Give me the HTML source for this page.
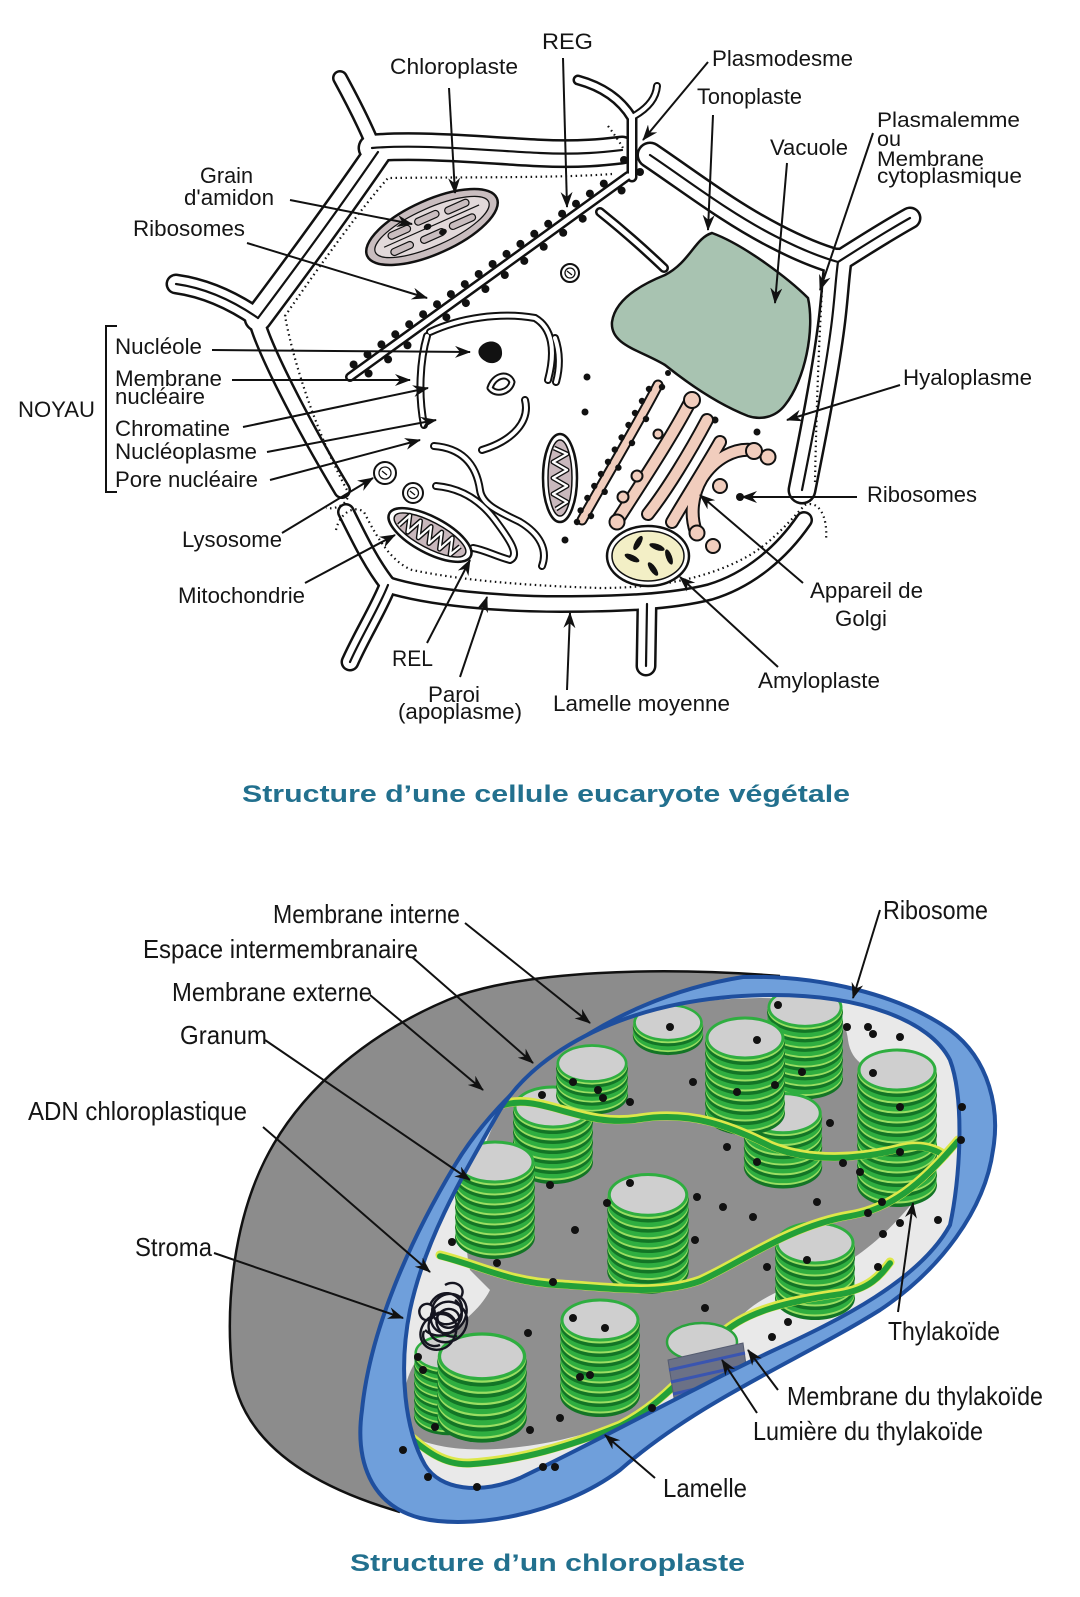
<!DOCTYPE html>
<html><head><meta charset="utf-8">
<style>
html,body{margin:0;padding:0;background:#fff;}
svg{display:block;}
text{font-family:"Liberation Sans",Arial,sans-serif;fill:#151515;}
.t{font-size:22px;}
.s{font-size:21px;}
.c{font-size:26px;}
.ti{font-size:24px;font-weight:bold;fill:#22708e;}
</style></head><body>
<svg width="1080" height="1597" viewBox="0 0 1080 1597" xmlns="http://www.w3.org/2000/svg" xmlns:xlink="http://www.w3.org/1999/xlink">
<defs>
<marker id="a" viewBox="0 0 16 12" markerWidth="16" markerHeight="12" refX="15" refY="6" orient="auto" markerUnits="userSpaceOnUse"><path d="M0,0 L16,6 L0,12 L5,6 Z" fill="#111"/></marker>
<path id="w1" d="M 372,148 C 420,144 480,150 540,153 C 580,155 605,152 622,150"/>
<path id="w2" d="M 378,152 C 345,200 300,262 258,318"/>
<path id="w3" d="M 256,318 C 262,345 300,420 342,490"/>
<path id="w4" d="M 346,512 C 360,540 372,565 388,585"/>
<path id="w5" d="M 388,585 C 430,598 500,604 560,604 C 620,604 670,602 710,592 C 750,580 782,552 804,520"/>
<path id="w6" d="M 802,490 C 812,440 826,370 832,320 C 835,295 836,275 838,262"/>
<path id="w7" d="M 650,155 C 690,182 730,213 775,236 C 800,249 820,257 838,262"/>
<path id="s1" d="M 375,150 C 365,125 352,100 340,78"/>
<path id="s2" d="M 258,318 C 232,300 205,288 176,284"/>
<path id="s3" d="M 388,585 C 378,610 362,635 350,662"/>
<path id="s4" d="M 647,604 L 646,666"/>
<path id="s5" d="M 838,262 C 860,248 885,232 910,218"/>
<g id="disc">
 <ellipse rx="40" ry="22" fill="#137526"/>
 <ellipse cy="-3" rx="39.5" ry="21.5" fill="#9ade62"/>
 <ellipse cy="-5" rx="39.5" ry="21.5" fill="#2fae40"/>
</g>
<g id="cap"><ellipse cy="-5" rx="36.5" ry="18.5" fill="#cfcfcf"/></g>
<g id="s2s"><use xlink:href="#disc" y="10"/><use xlink:href="#disc"/><use xlink:href="#cap"/></g>
<g id="s4s"><use xlink:href="#disc" y="30"/><use xlink:href="#disc" y="20"/><use xlink:href="#disc" y="10"/><use xlink:href="#disc"/><use xlink:href="#cap"/></g>
<g id="n6"><use xlink:href="#disc" y="50"/><use xlink:href="#disc" y="40"/><use xlink:href="#disc" y="30"/><use xlink:href="#disc" y="20"/><use xlink:href="#disc" y="10"/><use xlink:href="#disc"/></g>
<g id="s6s"><use xlink:href="#n6"/><use xlink:href="#cap"/></g>
<g id="s8s"><use xlink:href="#disc" y="70"/><use xlink:href="#disc" y="60"/><use xlink:href="#n6"/><use xlink:href="#cap"/></g>
<g id="s12s"><use xlink:href="#disc" y="110"/><use xlink:href="#disc" y="100"/><use xlink:href="#disc" y="90"/><use xlink:href="#disc" y="80"/><use xlink:href="#disc" y="70"/><use xlink:href="#disc" y="60"/><use xlink:href="#n6"/><use xlink:href="#cap"/></g>
<path id="inner" d="M 773,995 C 860,995 930,1020 950,1060 C 965,1100 960,1180 950,1225 C 920,1280 840,1320 770,1352 C 690,1390 600,1440 520,1478 C 480,1495 440,1490 425,1465 C 405,1430 398,1370 410,1310 C 425,1240 460,1180 500,1110 C 540,1045 640,995 773,995 Z"/>
<clipPath id="inclip"><use xlink:href="#inner"/></clipPath>
</defs>

<!-- ============ CELL ============ -->
<path d="M 712,233 C 745,245 790,280 808,298 C 815,330 805,380 785,405 C 775,418 760,420 748,416 C 720,405 690,385 665,365 C 640,350 610,345 612,322 C 615,300 640,285 665,275 C 690,262 695,238 712,233 Z" fill="#a8c3b1" stroke="#111" stroke-width="2.5"/>

<g fill="none" stroke-linecap="round" stroke-linejoin="round">
 <g stroke="#111">
  <use xlink:href="#w1" stroke-width="29"/><use xlink:href="#w2" stroke-width="29"/>
  <use xlink:href="#w6" stroke-width="29"/><use xlink:href="#w7" stroke-width="27"/>
  <use xlink:href="#w3" stroke-width="18"/><use xlink:href="#w4" stroke-width="18"/><use xlink:href="#w5" stroke-width="18"/>
  <use xlink:href="#s1" stroke-width="16"/><use xlink:href="#s2" stroke-width="21"/><use xlink:href="#s3" stroke-width="19"/>
  <use xlink:href="#s4" stroke-width="21"/><use xlink:href="#s5" stroke-width="23"/>
 </g>
 <g stroke="#fff">
  <use xlink:href="#w1" stroke-width="24"/><use xlink:href="#w2" stroke-width="24"/>
  <use xlink:href="#w6" stroke-width="24"/><use xlink:href="#w7" stroke-width="22"/>
  <use xlink:href="#w3" stroke-width="13"/><use xlink:href="#w4" stroke-width="13"/><use xlink:href="#w5" stroke-width="13"/>
  <use xlink:href="#s1" stroke-width="11"/><use xlink:href="#s2" stroke-width="16"/><use xlink:href="#s3" stroke-width="14"/>
  <use xlink:href="#s4" stroke-width="16"/><use xlink:href="#s5" stroke-width="18"/>
 </g>
 <g stroke="#111" stroke-width="2.2">
  <use xlink:href="#w1"/><use xlink:href="#w2"/><use xlink:href="#w6"/><use xlink:href="#w7"/>
  <use xlink:href="#s2"/><use xlink:href="#s3"/><use xlink:href="#s4"/><use xlink:href="#s5"/>
 </g>
 <g stroke="#111" stroke-width="2.2" stroke-dasharray="1.5 3.5" stroke-linecap="butt">
  <path d="M 612,174 C 560,178 470,177 388,178 C 360,210 325,258 285,316 C 295,370 320,440 348,492 C 350,502 338,510 326,508"/>
  <path d="M 336,530 C 340,512 355,505 364,512 C 378,540 392,562 412,570 C 470,582 540,586 600,588 C 660,588 710,578 750,555 C 775,540 795,515 805,505 C 818,500 828,515 826,540"/>
  <path d="M 815,482 C 816,430 818,360 822,290"/>
  <path d="M 608,126 C 614,134 619,141 623,148"/>
 </g>
 <g stroke="#111">
  <path d="M 350,377 L 628,176" stroke-width="10"/>
  <path d="M 632,177 L 632,118 C 620,98 600,86 578,80" stroke-width="11"/>
  <path d="M 634,116 C 648,108 656,98 657,86" stroke-width="8"/>
  <path d="M 600,212 C 620,228 645,250 664,268" stroke-width="10"/>
  <path d="M 430,332 C 460,318 500,312 535,318 C 552,328 556,350 548,380" stroke-width="8"/>
  <path d="M 427,336 C 420,360 418,395 424,425" stroke-width="8"/>
  <path d="M 434,446 C 460,448 476,462 480,490 C 482,505 500,512 520,522 C 540,534 548,550 542,566" stroke-width="8"/>
  <path d="M 436,486 C 460,488 480,500 495,520 C 510,540 520,555 510,560 C 495,556 485,550 473,548" stroke-width="8"/>
  <path d="M 555,338 C 560,352 560,368 556,382" stroke-width="8"/>
  <path d="M 490,388 C 494,375 508,372 512,382 C 510,392 496,396 490,388" stroke-width="7"/>
  <path d="M 525,400 C 530,420 515,440 482,450" stroke-width="8"/>
 </g>
 <g stroke="#fff">
  <path d="M 350,377 L 628,176" stroke-width="5"/>
  <path d="M 632,177 L 632,118 C 620,98 600,86 578,80" stroke-width="6"/>
  <path d="M 634,116 C 648,108 656,98 657,86" stroke-width="4"/>
  <path d="M 600,212 C 620,228 645,250 664,268" stroke-width="5"/>
  <path d="M 430,332 C 460,318 500,312 535,318 C 552,328 556,350 548,380" stroke-width="4"/>
  <path d="M 427,336 C 420,360 418,395 424,425" stroke-width="4"/>
  <path d="M 434,446 C 460,448 476,462 480,490 C 482,505 500,512 520,522 C 540,534 548,550 542,566" stroke-width="4"/>
  <path d="M 436,486 C 460,488 480,500 495,520 C 510,540 520,555 510,560 C 495,556 485,550 473,548" stroke-width="4"/>
  <path d="M 555,338 C 560,352 560,368 556,382" stroke-width="4"/>
  <path d="M 490,388 C 494,375 508,372 512,382 C 510,392 496,396 490,388" stroke-width="3"/>
  <path d="M 525,400 C 530,420 515,440 482,450" stroke-width="4"/>
 </g>
</g>

<g fill="#111">
 <circle cx="353.6" cy="364.5" r="4"/><circle cx="367.5" cy="354.4" r="4"/><circle cx="381.4" cy="344.4" r="4"/><circle cx="395.3" cy="334.3" r="4"/><circle cx="409.2" cy="324.3" r="4"/><circle cx="423.1" cy="314.2" r="4"/><circle cx="437" cy="304.2" r="4"/><circle cx="450.9" cy="294.1" r="4"/><circle cx="464.8" cy="284.1" r="4"/><circle cx="478.7" cy="274" r="4"/><circle cx="492.6" cy="264" r="4"/><circle cx="506.5" cy="253.9" r="4"/><circle cx="520.4" cy="243.9" r="4"/><circle cx="534.3" cy="233.8" r="4"/><circle cx="548.2" cy="223.8" r="4"/><circle cx="562.1" cy="213.7" r="4"/><circle cx="576" cy="203.7" r="4"/><circle cx="589.9" cy="193.6" r="4"/><circle cx="603.8" cy="183.6" r="4"/>
 <circle cx="368.6" cy="373.5" r="4"/><circle cx="388.1" cy="359.4" r="4"/><circle cx="407.5" cy="345.3" r="4"/><circle cx="446.4" cy="317.2" r="4"/><circle cx="465.9" cy="303.1" r="4"/><circle cx="485.4" cy="289" r="4"/><circle cx="504.8" cy="275" r="4"/><circle cx="524.3" cy="260.9" r="4"/><circle cx="543.7" cy="246.8" r="4"/><circle cx="563.2" cy="232.8" r="4"/><circle cx="582.7" cy="218.7" r="4"/><circle cx="621.6" cy="190.5" r="4"/><circle cx="624" cy="160" r="4"/><circle cx="640" cy="172" r="4"/>
 <circle cx="587" cy="377" r="3.5"/><circle cx="585" cy="412" r="3.5"/><circle cx="715" cy="420" r="3.5"/><circle cx="757" cy="432" r="3.5"/><circle cx="565" cy="540" r="3.5"/><circle cx="740" cy="497" r="4"/><circle cx="668" cy="373" r="3"/>
 <path d="M 482,345 C 490,338 502,342 502,352 C 503,362 492,366 485,361 C 478,357 476,350 482,345 Z"/>
</g>

<g transform="translate(432,227) rotate(-24)">
 <ellipse rx="71" ry="27" fill="#c9bdbf" stroke="#111" stroke-width="2.5"/>
 <ellipse rx="62" ry="19" fill="#e2d9da" stroke="#111" stroke-width="1.2"/>
 <g fill="#c9bdbf" stroke="#111" stroke-width="1.2">
  <rect x="-44" y="-12" width="24" height="7" rx="3.5"/><rect x="-14" y="-14" width="26" height="7" rx="3.5"/><rect x="18" y="-12" width="26" height="7" rx="3.5"/>
  <rect x="-48" y="4" width="24" height="7" rx="3.5"/><rect x="-16" y="5" width="26" height="7" rx="3.5"/><rect x="16" y="4" width="28" height="7" rx="3.5"/>
 </g>
 <path d="M -52,-1 L 52,-1" stroke="#111" stroke-width="1.2"/>
 <ellipse cx="-4" cy="-2" rx="4" ry="3" fill="#111"/><ellipse cx="8" cy="9" rx="4" ry="3" fill="#111"/>
</g>

<g transform="translate(430,535) rotate(28)">
 <ellipse rx="46" ry="18" fill="#fff" stroke="#111" stroke-width="2.5"/>
 <ellipse rx="40" ry="13" fill="#c9b8bd" stroke="#111" stroke-width="1.5"/>
 <path d="M -32,6 L -27,-8 L -21,8 L -15,-8 L -9,8 L -3,-8 L 3,8 L 9,-8 L 15,8 L 21,-8 L 27,8 L 32,-4" fill="none" stroke="#111" stroke-width="5" stroke-linejoin="round"/>
 <path d="M -32,6 L -27,-8 L -21,8 L -15,-8 L -9,8 L -3,-8 L 3,8 L 9,-8 L 15,8 L 21,-8 L 27,8 L 32,-4" fill="none" stroke="#fff" stroke-width="2.2" stroke-linejoin="round"/>
</g>
<g transform="translate(560,478)">
 <ellipse rx="17" ry="44" fill="#fff" stroke="#111" stroke-width="2.5"/>
 <ellipse rx="12" ry="38" fill="#c9b8bd" stroke="#111" stroke-width="1.5"/>
 <path d="M -6,-30 L 7,-24 L -7,-16 L 7,-8 L -7,0 L 7,8 L -7,16 L 7,24 L -4,31" fill="none" stroke="#111" stroke-width="5" stroke-linejoin="round"/>
 <path d="M -6,-30 L 7,-24 L -7,-16 L 7,-8 L -7,0 L 7,8 L -7,16 L 7,24 L -4,31" fill="none" stroke="#fff" stroke-width="2.2" stroke-linejoin="round"/>
</g>

<g fill="#fff" stroke="#111" stroke-width="2">
 <circle cx="385" cy="473" r="11"/><circle cx="413" cy="493" r="10"/><circle cx="570" cy="273" r="9"/>
</g>
<g fill="none" stroke="#111" stroke-width="1.3">
 <circle cx="385" cy="473" r="6"/><circle cx="413" cy="493" r="5.5"/><circle cx="570" cy="273" r="5"/>
 <path d="M 382,471 l 5,4 M 410,491 l 5,4 M 567,271 l 5,4"/>
</g>

<!-- golgi -->
<g fill="none" stroke-linecap="round" stroke-linejoin="round">
 <g stroke="#111" stroke-width="14">
  <path d="M 658,385 C 640,420 610,470 582,520" stroke-width="11"/>
  <path d="M 690,402 C 670,440 640,485 617,521"/>
  <path d="M 707,420 C 690,452 667,490 648,514"/>
  <path d="M 720,442 C 704,470 686,498 672,522"/>
  <path d="M 752,450 C 735,448 715,458 702,478 C 692,495 690,515 696,532"/>
 </g>
 <g stroke="#f1cdbd" stroke-width="10">
  <path d="M 658,385 C 640,420 610,470 582,520" stroke-width="7"/>
  <path d="M 690,402 C 670,440 640,485 617,521"/>
  <path d="M 707,420 C 690,452 667,490 648,514"/>
  <path d="M 720,442 C 704,470 686,498 672,522"/>
  <path d="M 752,450 C 735,448 715,458 702,478 C 692,495 690,515 696,532"/>
 </g>
</g>
<g fill="#f1cdbd" stroke="#111" stroke-width="2">
 <circle cx="768" cy="457" r="7.5"/><circle cx="720" cy="486" r="7"/><circle cx="713" cy="546" r="7"/><circle cx="637" cy="476" r="5.5"/><circle cx="623" cy="497" r="5.5"/><circle cx="658" cy="434" r="4.5"/>
 <circle cx="692" cy="400" r="8"/><circle cx="754" cy="451" r="8"/><circle cx="697" cy="533" r="7.5"/><circle cx="617" cy="522" r="7.5"/>
</g>
<g fill="#111">
 <circle cx="649" cy="389" r="3.2"/><circle cx="642" cy="401" r="3.2"/><circle cx="635" cy="413" r="3.2"/><circle cx="628.5" cy="425" r="3.2"/><circle cx="621.6" cy="437.5" r="3.2"/><circle cx="614.8" cy="449.6" r="3.2"/><circle cx="608" cy="461.8" r="3.2"/><circle cx="601" cy="474" r="3.2"/><circle cx="594.3" cy="486" r="3.2"/><circle cx="587.4" cy="498" r="3.2"/><circle cx="580.6" cy="510.4" r="3.2"/><circle cx="577" cy="522" r="3.2"/>
 <circle cx="662" cy="387" r="3.2"/><circle cx="646" cy="419" r="3.2"/><circle cx="632" cy="443" r="3.2"/><circle cx="618.4" cy="467.6" r="3.2"/><circle cx="604.7" cy="491.8" r="3.2"/><circle cx="591" cy="516" r="3.2"/>
</g>

<ellipse cx="648" cy="556" rx="41" ry="30" fill="#fff" stroke="#111" stroke-width="2.5"/>
<ellipse cx="648" cy="556" rx="36" ry="25" fill="#f3efc6" stroke="#111" stroke-width="1.5"/>
<g fill="#111">
 <ellipse cx="638" cy="543" rx="8" ry="3" transform="rotate(-60 638 543)"/>
 <ellipse cx="657" cy="547" rx="8" ry="3" transform="rotate(20 657 547)"/>
 <ellipse cx="669" cy="557" rx="8" ry="3" transform="rotate(70 669 557)"/>
 <ellipse cx="632" cy="558" rx="8" ry="3" transform="rotate(25 632 558)"/>
 <ellipse cx="653" cy="569" rx="8" ry="3" transform="rotate(55 653 569)"/>
</g>

<path d="M 117,326 L 106,326 L 106,492 L 117,492" fill="none" stroke="#111" stroke-width="2"/>

<g stroke="#111" stroke-width="2" fill="none" marker-end="url(#a)">
 <line x1="449" y1="88" x2="455" y2="193"/>
 <line x1="563" y1="58" x2="567" y2="207"/>
 <line x1="708" y1="62" x2="643" y2="140"/>
 <line x1="713" y1="115" x2="708" y2="230"/>
 <line x1="787" y1="163" x2="775" y2="303"/>
 <line x1="873" y1="133" x2="820" y2="290"/>
 <line x1="290" y1="200" x2="412" y2="224"/>
 <line x1="247" y1="243" x2="427" y2="298"/>
 <line x1="212" y1="350" x2="470" y2="352"/>
 <line x1="232" y1="380" x2="410" y2="380"/>
 <line x1="243" y1="427" x2="428" y2="388"/>
 <line x1="267" y1="452" x2="436" y2="420"/>
 <line x1="270" y1="480" x2="420" y2="440"/>
 <line x1="282" y1="533" x2="373" y2="478"/>
 <line x1="305" y1="583" x2="395" y2="535"/>
 <line x1="427" y1="643" x2="470" y2="560"/>
 <line x1="460" y1="677" x2="487" y2="597"/>
 <line x1="567" y1="690" x2="570" y2="613"/>
 <line x1="778" y1="667" x2="680" y2="577"/>
 <line x1="803" y1="583" x2="700" y2="495"/>
 <line x1="857" y1="497" x2="742" y2="497"/>
 <line x1="900" y1="385" x2="787" y2="420"/>
</g>

<g class="t">
 <text x="542" y="49" textLength="51" lengthAdjust="spacingAndGlyphs">REG</text>
 <text x="390" y="74" textLength="128" lengthAdjust="spacingAndGlyphs">Chloroplaste</text>
 <text x="712" y="66" textLength="141" lengthAdjust="spacingAndGlyphs">Plasmodesme</text>
 <text x="697" y="104" textLength="105" lengthAdjust="spacingAndGlyphs">Tonoplaste</text>
 <text x="770" y="155" textLength="78" lengthAdjust="spacingAndGlyphs">Vacuole</text>
 <text x="200" y="183" textLength="53" lengthAdjust="spacingAndGlyphs">Grain</text>
 <text x="184" y="205" textLength="90" lengthAdjust="spacingAndGlyphs">d'amidon</text>
 <text x="133" y="236" textLength="112" lengthAdjust="spacingAndGlyphs">Ribosomes</text>
 <text x="115" y="354" textLength="87" lengthAdjust="spacingAndGlyphs">Nucléole</text>
 <text x="115" y="386" textLength="107" lengthAdjust="spacingAndGlyphs">Membrane</text>
 <text x="115" y="404" textLength="90" lengthAdjust="spacingAndGlyphs">nucléaire</text>
 <text x="18" y="417" textLength="77" lengthAdjust="spacingAndGlyphs">NOYAU</text>
 <text x="115" y="436" textLength="115" lengthAdjust="spacingAndGlyphs">Chromatine</text>
 <text x="115" y="459" textLength="142" lengthAdjust="spacingAndGlyphs">Nucléoplasme</text>
 <text x="115" y="487" textLength="143" lengthAdjust="spacingAndGlyphs">Pore nucléaire</text>
 <text x="182" y="547" textLength="100" lengthAdjust="spacingAndGlyphs">Lysosome</text>
 <text x="178" y="603" textLength="127" lengthAdjust="spacingAndGlyphs">Mitochondrie</text>
 <text x="392" y="666" textLength="41" lengthAdjust="spacingAndGlyphs">REL</text>
 <text x="428" y="702" textLength="52" lengthAdjust="spacingAndGlyphs">Paroi</text>
 <text x="398" y="719" textLength="124" lengthAdjust="spacingAndGlyphs">(apoplasme)</text>
 <text x="553" y="711" textLength="177" lengthAdjust="spacingAndGlyphs">Lamelle moyenne</text>
 <text x="758" y="688" textLength="122" lengthAdjust="spacingAndGlyphs">Amyloplaste</text>
 <text x="810" y="598" textLength="113" lengthAdjust="spacingAndGlyphs">Appareil de</text>
 <text x="835" y="626" textLength="52" lengthAdjust="spacingAndGlyphs">Golgi</text>
 <text x="867" y="502" textLength="110" lengthAdjust="spacingAndGlyphs">Ribosomes</text>
 <text x="903" y="385" textLength="129" lengthAdjust="spacingAndGlyphs">Hyaloplasme</text>
</g>
<g class="s">
 <text x="877" y="127" textLength="143" lengthAdjust="spacingAndGlyphs">Plasmalemme</text>
 <text x="877" y="146" textLength="24" lengthAdjust="spacingAndGlyphs">ou</text>
 <text x="877" y="166" textLength="107" lengthAdjust="spacingAndGlyphs">Membrane</text>
 <text x="877" y="183" textLength="145" lengthAdjust="spacingAndGlyphs">cytoplasmique</text>
</g>

<text class="ti" x="242" y="802" textLength="608" lengthAdjust="spacingAndGlyphs">Structure d’une cellule eucaryote végétale</text>

<!-- ============ CHLOROPLAST ============ -->
<path d="M 780,976 C 650,966 530,972 460,995 C 370,1030 300,1090 265,1160 C 235,1220 225,1300 232,1370 C 240,1430 290,1480 400,1512 L 520,1480 L 780,1000 Z" fill="#8c8c8c"/>
<path d="M 780,976 C 650,966 530,972 460,995 C 370,1030 300,1090 265,1160 C 235,1220 225,1300 232,1370 C 240,1430 290,1480 400,1512" fill="none" stroke="#111" stroke-width="2.5"/>
<path d="M 743,977 C 820,975 900,995 950,1030 C 990,1060 1000,1110 993,1150 C 985,1210 940,1270 880,1310 C 800,1360 700,1400 620,1470 C 560,1515 470,1530 420,1518 C 370,1505 355,1460 362,1410 C 370,1330 410,1240 455,1165 C 500,1090 600,1000 743,977 Z" fill="#6f9fdb" stroke="#1f4f9e" stroke-width="4"/>
<use xlink:href="#inner" fill="#e9e9e9"/>
<g clip-path="url(#inclip)">
 <path d="M 520,1080 C 560,1030 640,1000 760,998 C 820,998 845,1010 848,1040 C 852,1070 880,1070 905,1090 C 935,1120 935,1175 915,1200 C 890,1230 860,1260 820,1275 C 780,1290 750,1300 730,1330 C 700,1375 660,1405 610,1425 C 560,1445 470,1460 420,1440 C 395,1420 400,1370 430,1345 C 460,1325 480,1310 490,1290 L 470,1270 C 460,1230 470,1150 520,1080 Z" fill="#8f8f8f"/>
 <use xlink:href="#s8s" transform="translate(805,1012) scale(0.95)"/>
 <use xlink:href="#s6s" transform="translate(553,1112) scale(1.0)"/>
 <use xlink:href="#s6s" transform="translate(783,1118) scale(0.98)"/>
 <use xlink:href="#s2s" transform="translate(668,1027) scale(0.88)"/>
 <use xlink:href="#s4s" transform="translate(592,1068) scale(0.9)"/>
 <use xlink:href="#s8s" transform="translate(745,1043) scale(1.0)"/>
 <use xlink:href="#s12s" transform="translate(897,1075) scale(1.0)"/>
 <g fill="none" stroke-linecap="round">
  <path d="M 500,1105 C 540,1090 580,1128 640,1118 C 690,1110 730,1125 770,1145 C 810,1162 860,1158 900,1148 C 920,1143 935,1148 945,1155" stroke="#dde84a" stroke-width="9"/>
  <path d="M 500,1105 C 540,1090 580,1128 640,1118 C 690,1110 730,1125 770,1145 C 810,1162 860,1158 900,1148 C 920,1143 935,1148 945,1155" stroke="#23a038" stroke-width="6" transform="translate(0,1.2)"/>
 </g>
 <use xlink:href="#s8s" transform="translate(495,1167) scale(1.0)"/>
 <use xlink:href="#s8s" transform="translate(648,1200) scale(1.02)"/>
 <use xlink:href="#s6s" transform="translate(815,1248) scale(1.0)"/>
 <g fill="none" stroke-linecap="round">
  <path d="M 440,1255 C 480,1265 510,1282 560,1284 C 620,1288 660,1294 700,1280 C 740,1262 790,1225 850,1215 C 890,1208 920,1185 958,1140" stroke="#dde84a" stroke-width="9"/>
  <path d="M 440,1255 C 480,1265 510,1282 560,1284 C 620,1288 660,1294 700,1280 C 740,1262 790,1225 850,1215 C 890,1208 920,1185 958,1140" stroke="#23a038" stroke-width="6" transform="translate(0,1.2)"/>
 </g>
 <use xlink:href="#s8s" transform="translate(448,1357) scale(0.85)"/>
 <use xlink:href="#s6s" transform="translate(482,1362) scale(1.12)"/>
 <use xlink:href="#s8s" transform="translate(600,1325) scale(1.0)"/>
 <g fill="none" stroke-linecap="round">
  <path d="M 385,1418 C 410,1430 430,1465 470,1463 C 520,1460 570,1445 620,1425 C 660,1405 690,1370 720,1335 C 745,1310 790,1300 840,1293 C 870,1288 880,1275 890,1262" stroke="#dde84a" stroke-width="9"/>
  <path d="M 385,1418 C 410,1430 430,1465 470,1463 C 520,1460 570,1445 620,1425 C 660,1405 690,1370 720,1335 C 745,1310 790,1300 840,1293 C 870,1288 880,1275 890,1262" stroke="#23a038" stroke-width="6" transform="translate(0,1.2)"/>
 </g>
 <!-- thylakoid lumen cut block (on top of lamella) -->
 <ellipse cx="702" cy="1342" rx="35" ry="19" fill="#cfcfcf" stroke="#2aa43d" stroke-width="2.5"/>
 <path d="M 668,1360 L 743,1343 L 749,1387 L 675,1404 Z" fill="#6b7186" stroke="#555c70" stroke-width="1"/>
 <g stroke="#3a55b0" stroke-width="3" fill="none">
  <path d="M 669,1370 L 745,1353"/><path d="M 671,1382 L 747,1365"/><path d="M 673,1394 L 748,1377"/>
 </g>
 <!-- DNA -->
 <g fill="none" stroke="#151520" stroke-width="2.4">
  <path d="M 430,1305 c 8,-18 30,-14 32,2 c 2,16 -20,24 -28,10 c -8,-14 12,-30 26,-20 c 14,10 4,34 -12,36 c -16,2 -24,-18 -10,-28 c 14,-10 34,4 28,22 c -6,18 -30,20 -36,6 c -6,-14 8,-26 20,-18 c 12,8 6,30 -8,34 c -14,4 -26,-8 -20,-22 c 6,-14 24,-18 32,-6"/>
  <path d="M 420,1315 c -4,-10 10,-16 14,-6 c 4,10 -10,16 -14,6 M 445,1285 c 10,-6 22,2 16,12 M 425,1330 c 10,10 30,6 34,-8 c 3,-12 -12,-18 -20,-8 c -8,10 4,26 18,22 M 440,1345 c -10,4 -20,-4 -16,-14 M 455,1300 c 8,6 10,20 0,26 c -10,6 -22,-4 -16,-14"/>
 </g>
</g>
<use xlink:href="#inner" fill="none" stroke="#1f4f9e" stroke-width="4"/>
<g fill="#111">
 <circle cx="670" cy="1027" r="4"/><circle cx="757" cy="1040" r="4"/><circle cx="778" cy="1005" r="4"/><circle cx="847" cy="1027" r="4"/><circle cx="868" cy="1027" r="4"/><circle cx="873" cy="1034" r="4"/><circle cx="900" cy="1037" r="4"/><circle cx="873" cy="1073" r="4"/><circle cx="693" cy="1082" r="4"/><circle cx="737" cy="1092" r="4"/><circle cx="775" cy="1085" r="4"/><circle cx="802" cy="1072" r="4"/><circle cx="573" cy="1082" r="4"/><circle cx="598" cy="1090" r="4"/><circle cx="603" cy="1098" r="4"/><circle cx="630" cy="1102" r="4"/><circle cx="542" cy="1095" r="4"/><circle cx="830" cy="1123" r="4"/><circle cx="900" cy="1107" r="4"/><circle cx="962" cy="1107" r="4"/><circle cx="961" cy="1140" r="4"/><circle cx="900" cy="1152" r="4"/><circle cx="843" cy="1163" r="4"/><circle cx="860" cy="1172" r="4"/><circle cx="727" cy="1147" r="4"/><circle cx="757" cy="1162" r="4"/><circle cx="550" cy="1185" r="4"/><circle cx="630" cy="1183" r="4"/><circle cx="607" cy="1203" r="4"/><circle cx="697" cy="1197" r="4"/><circle cx="723" cy="1207" r="4"/><circle cx="753" cy="1217" r="4"/><circle cx="817" cy="1202" r="4"/><circle cx="882" cy="1202" r="4"/><circle cx="868" cy="1213" r="4"/><circle cx="900" cy="1223" r="4"/><circle cx="883" cy="1234" r="4"/><circle cx="938" cy="1220" r="4"/><circle cx="575" cy="1230" r="4"/><circle cx="695" cy="1240" r="4"/><circle cx="452" cy="1242" r="4"/><circle cx="497" cy="1263" r="4"/><circle cx="553" cy="1282" r="4"/><circle cx="705" cy="1308" r="4"/><circle cx="528" cy="1333" r="4"/><circle cx="573" cy="1318" r="4"/><circle cx="605" cy="1328" r="4"/><circle cx="418" cy="1357" r="4"/><circle cx="423" cy="1370" r="4"/><circle cx="580" cy="1377" r="4"/><circle cx="560" cy="1418" r="4"/><circle cx="530" cy="1430" r="4"/><circle cx="435" cy="1427" r="4"/><circle cx="652" cy="1408" r="4"/><circle cx="403" cy="1450" r="4"/><circle cx="428" cy="1477" r="4"/><circle cx="477" cy="1487" r="4"/><circle cx="543" cy="1467" r="4"/><circle cx="555" cy="1467" r="4"/><circle cx="767" cy="1267" r="4"/><circle cx="807" cy="1260" r="4"/><circle cx="878" cy="1267" r="4"/><circle cx="788" cy="1322" r="4"/><circle cx="772" cy="1337" r="4"/><circle cx="590" cy="1375" r="4"/>
</g>

<g stroke="#111" stroke-width="2" fill="none" marker-end="url(#a)">
 <line x1="465" y1="923" x2="590" y2="1023"/>
 <line x1="412" y1="957" x2="533" y2="1063"/>
 <line x1="370" y1="995" x2="483" y2="1090"/>
 <line x1="265" y1="1040" x2="470" y2="1180"/>
 <line x1="263" y1="1127" x2="430" y2="1272"/>
 <line x1="214" y1="1253" x2="403" y2="1318"/>
 <line x1="880" y1="910" x2="853" y2="998"/>
 <line x1="898" y1="1312" x2="913" y2="1203"/>
 <line x1="778" y1="1390" x2="748" y2="1350"/>
 <line x1="757" y1="1413" x2="722" y2="1360"/>
 <line x1="655" y1="1478" x2="605" y2="1435"/>
</g>
<g class="c">
 <text x="273" y="923" textLength="187" lengthAdjust="spacingAndGlyphs">Membrane interne</text>
 <text x="143" y="958" textLength="275" lengthAdjust="spacingAndGlyphs">Espace intermembranaire</text>
 <text x="172" y="1001" textLength="200" lengthAdjust="spacingAndGlyphs">Membrane externe</text>
 <text x="180" y="1044" textLength="87" lengthAdjust="spacingAndGlyphs">Granum</text>
 <text x="28" y="1120" textLength="219" lengthAdjust="spacingAndGlyphs">ADN chloroplastique</text>
 <text x="135" y="1256" textLength="77" lengthAdjust="spacingAndGlyphs">Stroma</text>
 <text x="883" y="919" textLength="105" lengthAdjust="spacingAndGlyphs">Ribosome</text>
 <text x="888" y="1340" textLength="112" lengthAdjust="spacingAndGlyphs">Thylakoïde</text>
 <text x="787" y="1405" textLength="256" lengthAdjust="spacingAndGlyphs">Membrane du thylakoïde</text>
 <text x="753" y="1440" textLength="230" lengthAdjust="spacingAndGlyphs">Lumière du thylakoïde</text>
 <text x="663" y="1497" textLength="84" lengthAdjust="spacingAndGlyphs">Lamelle</text>
</g>

<text class="ti" x="350" y="1571" textLength="395" lengthAdjust="spacingAndGlyphs">Structure d’un chloroplaste</text>
</svg>
</body></html>
